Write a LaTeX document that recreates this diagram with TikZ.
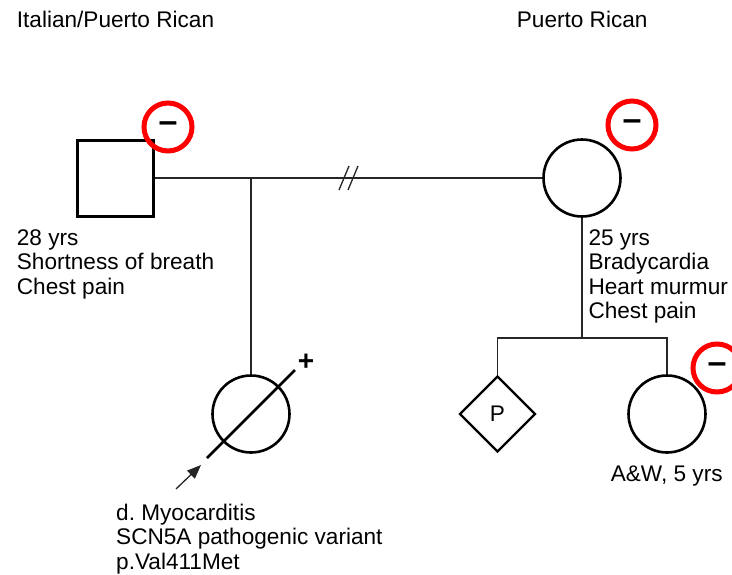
\documentclass[tikz,border=0pt]{standalone}
\usepackage{fontspec}
\setmainfont{Liberation Sans}
\usetikzlibrary{arrows.meta,shapes.geometric,positioning}
\tikzset{pedigree/.style={
  x=1pt,y=-1pt,
  >={Triangle[length=14pt,width=11pt]},line join=miter
},
person/.style={draw,line width=2.6pt,inner sep=0pt,minimum size=77pt},
male/.style={person,rectangle,line width=3pt,minimum size=76pt},
female/.style={person,circle},
unknownsex/.style={person,diamond,line width=2.2pt,minimum size=76pt},
result/.style={circle,draw=red,line width=5pt,minimum size=48pt,inner sep=0pt,
  font=\fontsize{34}{34}\selectfont\bfseries},
link/.style={line width=1.3pt,black!85},
info/.style={align=left,inner sep=0pt,font=\fontsize{22.6}{24.5}\selectfont\frenchspacing}
}

\begin{document}
\begin{tikzpicture}[pedigree]
  \useasboundingbox (0,0) rectangle (732,574);
  \node[male] (father) at (115,178) {};
  \node[female] (mother) at (582,178) {};
  \node[female] (proband) at (251,414) {};
  \node[unknownsex,font=\fontsize{22.6}{22.6}\selectfont] (sibP) at (497.5,414) {P};
  \node[female] (sister) at (667,414) {};
  \coordinate (drop) at (proband.north |- father.east);
  \coordinate (sibs) at (582,338);
  \coordinate (sep) at (348,178);
  \draw[link] (father.east) -- (mother.west);
  \draw[link] (drop) -- (proband.north);
  \draw[link] (mother.south) -- (sibs);
  \draw[link] (sibP.north) |- (sibs) -| (sister.north);
  \draw[link] (sep) ++(-9,12) -- ++(10,-24);
  \draw[link] (sep) ++(0,12) -- ++(10,-24);
  \draw[line width=2.6pt] (proband.center) ++(-44,44) -- ++(88,-88);
  \node[font=\fontsize{28}{28}\selectfont\bfseries] (plus) at (306,362) {+};
  \coordinate (arrowtail) at (176,489);
  \coordinate (arrowhead) at (201,465);
  \draw[->,link] (arrowtail) -- (arrowhead);
  \node[result] (fatherres) at (168,127) {–};
  \node[result] (motherres) at (632,125) {–};
  \node[result] (sisterres) at (717,368) {–};
  \node[info,anchor=base west] (fathertop) at (16.7,27) {Italian/Puerto Rican};
  \node[info,anchor=base west] (mothertop) at (516.7,27) {Puerto Rican};
  \node[info,anchor=base west] (fatherinfo) at (16.7,294) {28 yrs\\Shortness of breath\\Chest pain};
  \node[info,anchor=base west] (motherinfo) at (588.3,318.5) {25 yrs\\Bradycardia\\Heart murmur\\Chest pain};
  \node[info,anchor=base west] (probandinfo) at (116,569) {d. Myocarditis\\SCN5A pathogenic variant\\p.Val411Met};
  \node[info,anchor=base] (sisterinfo) at (666.7,481) {A\&W, 5 yrs};
\end{tikzpicture}
\end{document}
